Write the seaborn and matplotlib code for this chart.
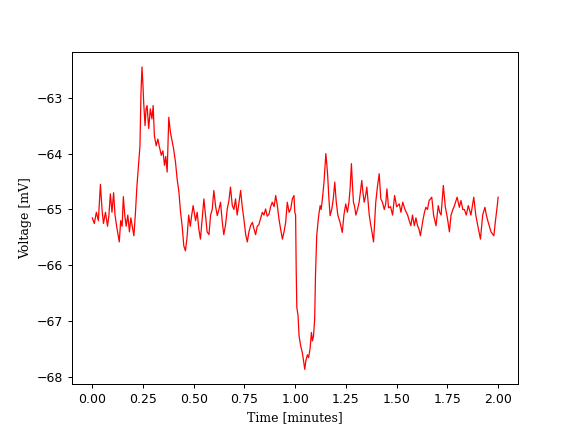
import matplotlib
matplotlib.use("Agg")
import matplotlib.pyplot as plt
import numpy as np
import seaborn as sns

# time in minutes, voltage in mV
time_min = [
    0.000, 0.010, 0.020, 0.030, 0.040, 0.048, 0.055, 0.065, 0.075, 0.082,
    0.089, 0.097, 0.105, 0.112, 0.120, 0.127, 0.133, 0.140, 0.147, 0.153,
    0.160, 0.167, 0.175, 0.183, 0.190, 0.197, 0.205, 0.212, 0.220, 0.228,
    0.235, 0.240, 0.245, 0.250, 0.253, 0.260, 0.265, 0.270, 0.278, 0.286,
    0.294, 0.300, 0.306, 0.315, 0.323, 0.332, 0.340, 0.348, 0.356, 0.362,
    0.369, 0.377, 0.385, 0.394, 0.400, 0.410, 0.418, 0.427, 0.435, 0.443,
    0.451, 0.459, 0.467, 0.475, 0.483, 0.490, 0.497, 0.509, 0.517, 0.525,
    0.533, 0.541, 0.550, 0.558, 0.566, 0.575, 0.583, 0.591, 0.599, 0.608,
    0.616, 0.624, 0.632, 0.640, 0.648, 0.657, 0.665, 0.673, 0.681, 0.690,
    0.698, 0.706, 0.714, 0.722, 0.731, 0.739, 0.747, 0.756, 0.764, 0.772,
    0.780, 0.789, 0.797, 0.805, 0.813, 0.821, 0.830, 0.838, 0.846, 0.854,
    0.862, 0.871, 0.879, 0.887, 0.896, 0.904, 0.912, 0.920, 0.928, 0.937,
    0.945, 0.953, 0.961, 0.970, 0.978, 0.986, 0.994, 0.998, 1.002, 1.005,
    1.008, 1.014, 1.019, 1.027, 1.035, 1.041, 1.047, 1.053, 1.060, 1.066,
    1.073, 1.080, 1.085, 1.090, 1.096, 1.100, 1.106, 1.113, 1.118, 1.123,
    1.128, 1.134, 1.142, 1.151, 1.156, 1.160, 1.166, 1.172, 1.180, 1.188,
    1.195, 1.202, 1.210, 1.221, 1.232, 1.240, 1.249, 1.257, 1.265, 1.271,
    1.277, 1.282, 1.287, 1.293, 1.299, 1.307, 1.315, 1.321, 1.328, 1.334,
    1.340, 1.347, 1.353, 1.359, 1.365, 1.371, 1.376, 1.386, 1.392, 1.397,
    1.405, 1.414, 1.422, 1.430, 1.439, 1.446, 1.452, 1.460, 1.470, 1.480,
    1.490, 1.500, 1.513, 1.521, 1.530, 1.541, 1.554, 1.562, 1.570, 1.578,
    1.587, 1.595, 1.603, 1.610, 1.617, 1.629, 1.637, 1.644, 1.652, 1.660,
    1.673, 1.682, 1.694, 1.705, 1.712, 1.719, 1.730, 1.740, 1.750, 1.760,
    1.768, 1.777, 1.785, 1.798, 1.809, 1.817, 1.826, 1.834, 1.843, 1.853,
    1.866, 1.880, 1.890, 1.903, 1.913, 1.924, 1.935, 1.942, 1.949, 1.957,
    1.965, 1.979, 1.987, 1.995, 2.000,
]
voltage_mv = [
    -65.15, -65.25, -65.05, -65.20, -64.55, -65.00, -65.25, -65.05, -65.30, -65.10,
    -64.72, -65.05, -64.70, -65.10, -65.30, -65.45, -65.58, -65.20, -65.30, -64.77,
    -65.10, -65.30, -65.10, -65.40, -65.15, -65.30, -65.47, -65.10, -64.58, -64.20,
    -63.86, -62.90, -62.45, -62.80, -63.07, -63.50, -63.20, -63.14, -63.55, -63.20,
    -63.38, -63.14, -63.68, -63.86, -63.74, -63.90, -64.03, -63.95, -64.21, -64.05,
    -64.33, -63.35, -63.62, -63.79, -63.90, -64.15, -64.45, -64.69, -65.05, -65.30,
    -65.65, -65.74, -65.50, -65.10, -65.30, -65.10, -64.93, -65.20, -65.05, -65.35,
    -65.53, -65.20, -64.81, -65.10, -65.40, -65.45, -65.10, -65.00, -64.66, -64.95,
    -65.11, -65.00, -64.87, -65.20, -65.45, -65.27, -64.99, -64.85, -64.60, -64.93,
    -65.00, -64.81, -65.10, -64.90, -64.66, -64.95, -65.17, -65.45, -65.58, -65.40,
    -65.29, -65.23, -65.35, -65.45, -65.30, -65.27, -65.15, -65.05, -65.10, -64.99,
    -65.12, -65.08, -64.95, -64.87, -64.95, -64.75, -64.93, -65.17, -65.35, -65.53,
    -65.40, -65.23, -64.87, -65.05, -64.99, -64.81, -64.75, -65.05, -65.10, -66.10,
    -66.75, -66.90, -67.26, -67.44, -67.56, -67.70, -67.86, -67.70, -67.60, -67.65,
    -67.50, -67.20, -67.35, -67.27, -66.96, -66.18, -65.47, -65.20, -65.05, -64.93,
    -65.00, -64.81, -64.51, -64.00, -64.20, -64.39, -64.80, -65.11, -65.00, -64.80,
    -64.51, -64.85, -65.10, -65.23, -65.41, -65.10, -64.90, -65.05, -64.87, -64.60,
    -64.18, -64.55, -64.87, -64.95, -65.10, -65.00, -64.87, -64.70, -64.48, -64.70,
    -64.87, -64.75, -64.60, -64.85, -65.10, -65.25, -65.35, -65.58, -65.20, -64.87,
    -64.60, -64.36, -64.81, -64.87, -65.00, -64.90, -64.63, -64.97, -64.95, -65.10,
    -64.75, -64.95, -64.90, -65.05, -64.87, -65.00, -65.10, -65.20, -65.29, -65.10,
    -65.29, -65.15, -65.29, -65.35, -65.47, -65.20, -65.05, -64.96, -65.00, -64.84,
    -64.78, -65.10, -65.29, -64.93, -65.05, -65.10, -64.57, -64.96, -65.15, -65.40,
    -65.10, -65.00, -64.93, -64.78, -64.96, -64.84, -65.00, -65.00, -65.10, -64.93,
    -65.10, -64.78, -65.10, -65.35, -65.53, -65.10, -64.96, -65.10, -65.20, -65.30,
    -65.40, -65.47, -65.20, -64.96, -64.78,
]

fig, ax = plt.subplots(figsize=(6.4, 4.8), dpi=90)
sns.lineplot(x=np.array(time_min), y=np.array(voltage_mv), ax=ax,
             color='red', linewidth=1.0, estimator=None, sort=False)

ax.set_xlabel('Time [minutes]', family='DejaVu Serif')
ax.set_ylabel('Voltage [mV]', family='DejaVu Serif')

plt.savefig('out.png')
